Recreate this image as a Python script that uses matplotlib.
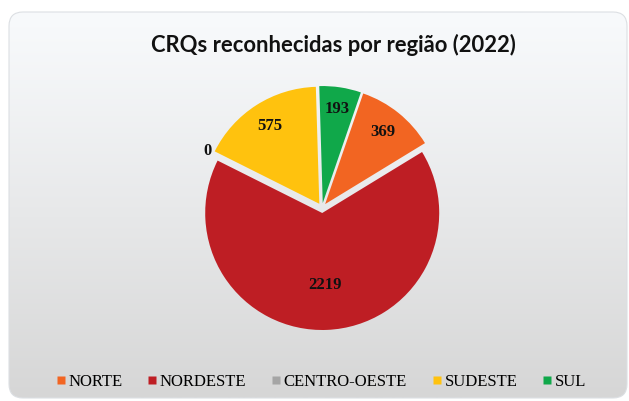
import numpy as np
import matplotlib.pyplot as plt
from matplotlib.patches import FancyBboxPatch
from matplotlib.lines import Line2D
from matplotlib.font_manager import FontProperties

# CRQs por região, 2022
regioes = ['NORTE', 'NORDESTE', 'CENTRO-OESTE', 'SUDESTE', 'SUL']
valores = [369, 2219, 0, 575, 193]
cores = ['#F26522', '#BE1E24', '#A5A5A5', '#FFC20E', '#10A84A']
dist_rotulo = [0.83, 0.66, 1.09, 0.83, 0.86]

W, H = 629, 401
fig = plt.figure(figsize=(W / 100, H / 100), dpi=100)
fig.patch.set_facecolor('white')

# cartão de fundo com degradê
bg = fig.add_axes([0, 0, 1, 1])
bg.set_xlim(0, W)
bg.set_ylim(0, H)
bg.axis('off')
card = FancyBboxPatch((9, 3), 618, 386, boxstyle='round,pad=0,rounding_size=14',
                      facecolor='none', edgecolor='none')
bg.add_patch(card)
grad = np.linspace(0, 1, 256).reshape(-1, 1)
top = np.array([248, 250, 252]) / 255
bot = np.array([214, 214, 214]) / 255
img = top + (bot - top) * grad[..., None] ** 1.1
img = img.reshape(256, 1, 3)
im = bg.imshow(img, extent=(9, 627, 3, 389), origin='upper', aspect='auto')
im.set_clip_path(card)
bg.add_patch(FancyBboxPatch((9, 3), 618, 386, boxstyle='round,pad=0,rounding_size=14',
                            facecolor='none', edgecolor='#dcdfe3', linewidth=0.8))

bg.text(333, H - 45, 'CRQs reconhecidas por região (2022)', ha='center', va='center',
        fontsize=15.8, fontweight='bold', family='Lato', color='#111111')

# pizza
cx, cy = 322, 208
ax = fig.add_axes([(cx - 150) / W, (H - cy - 150) / H, 300 / W, 300 / H])
raio = 1.17
inicio = 71
wedges, _ = ax.pie(valores, colors=cores, radius=raio, startangle=inicio,
                   counterclock=False, explode=[0.05] * 5,
                   wedgeprops=dict(edgecolor='none'))
ax.set_xlim(-1.5, 1.5)
ax.set_ylim(-1.5, 1.5)
ax.axis('off')

for w, v, d in zip(wedges, valores, dist_rotulo):
    ang = np.deg2rad((w.theta1 + w.theta2) / 2)
    ax.text(d * raio * np.cos(ang), d * raio * np.sin(ang), str(v),
            ha='center', va='center', fontsize=12, fontweight='bold',
            family='Liberation Serif', color='#111111')

# legenda
handles = [Line2D([], [], marker='s', linestyle='none', markersize=6,
                  markerfacecolor=c, markeredgecolor='none') for c in cores]
fig.legend(handles, regioes, loc='center', bbox_to_anchor=(321 / W, (H - 382) / H),
           ncol=5, frameon=False, handlelength=0.6, handletextpad=0.15,
           columnspacing=1.5, prop=FontProperties(family='Liberation Serif', size=12))

fig.savefig('out.png', dpi=100, facecolor='white')
